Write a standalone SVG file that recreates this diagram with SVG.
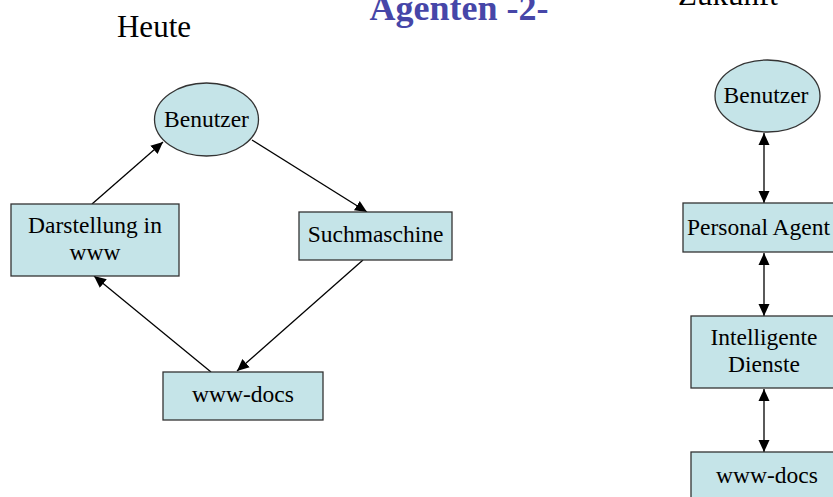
<svg xmlns="http://www.w3.org/2000/svg" width="833" height="497" viewBox="0 0 833 497">
<style>
.box{fill:#C5E4E8;stroke:#333;stroke-width:1.3}
.t{font-family:"Liberation Serif","Times New Roman",serif;font-size:23.5px;fill:#000;text-anchor:middle}
.h{font-family:"Liberation Serif","Times New Roman",serif;font-size:31px;fill:#000;text-anchor:middle}
.c{stroke:#000;stroke-width:1.3;fill:none}
</style>
<defs>
<marker id="ah" markerUnits="userSpaceOnUse" markerWidth="13" markerHeight="13" refX="12" refY="5.5" orient="auto-start-reverse" viewBox="0 0 13 11">
<path d="M0,0 L12,5.5 L0,11 Z" fill="#000"/>
</marker>
</defs>
<rect width="833" height="497" fill="#fff"/>
<text class="h" x="154" y="37">Heute</text>
<text x="459" y="20" font-family="Liberation Serif,'Times New Roman',serif" font-size="36" font-weight="bold" fill="#4646A8" text-anchor="middle">Agenten -2-</text>
<text class="h" x="728" y="5">Zukunft</text>

<g id="connectors">
<line class="c" x1="92" y1="204" x2="163" y2="142" marker-end="url(#ah)"/>
<line class="c" x1="252" y1="140" x2="367" y2="212" marker-end="url(#ah)"/>
<line class="c" x1="363" y1="260" x2="237" y2="371" marker-end="url(#ah)"/>
<line class="c" x1="211" y1="372" x2="94" y2="276" marker-end="url(#ah)"/>
<line class="c" x1="764" y1="133" x2="764" y2="203" marker-start="url(#ah)" marker-end="url(#ah)"/>
<line class="c" x1="764" y1="253" x2="764" y2="316" marker-start="url(#ah)" marker-end="url(#ah)"/>
<line class="c" x1="764" y1="389" x2="764" y2="452" marker-start="url(#ah)" marker-end="url(#ah)"/>
</g>

<g id="benutzer-heute">
<ellipse class="box" cx="206.5" cy="119.5" rx="52" ry="36.5"/>
<text class="t" x="206.5" y="127">Benutzer</text>
</g>
<g id="darstellung">
<rect class="box" x="11" y="204" width="168" height="72"/>
<text class="t" x="95" y="233">Darstellung in</text>
<text class="t" x="95" y="260">www</text>
</g>
<g id="suchmaschine">
<rect class="box" x="299" y="212" width="153" height="48"/>
<text class="t" x="375.5" y="242">Suchmaschine</text>
</g>
<g id="wwwdocs-heute">
<rect class="box" x="163" y="372" width="160" height="48"/>
<text class="t" x="243" y="402">www-docs</text>
</g>

<g id="benutzer-zukunft">
<ellipse class="box" cx="767.5" cy="96" rx="52.5" ry="36"/>
<text class="t" x="766" y="103">Benutzer</text>
</g>
<g id="personal-agent">
<rect class="box" x="683" y="203" width="170" height="49"/>
<text class="t" x="758.5" y="235">Personal Agent</text>
</g>
<g id="intelligente-dienste">
<rect class="box" x="691" y="316" width="160" height="72"/>
<text class="t" x="764" y="345">Intelligente</text>
<text class="t" x="764" y="372">Dienste</text>
</g>
<g id="wwwdocs-zukunft">
<rect class="box" x="691" y="452" width="160" height="60"/>
<text class="t" x="767" y="483">www-docs</text>
</g>
</svg>
